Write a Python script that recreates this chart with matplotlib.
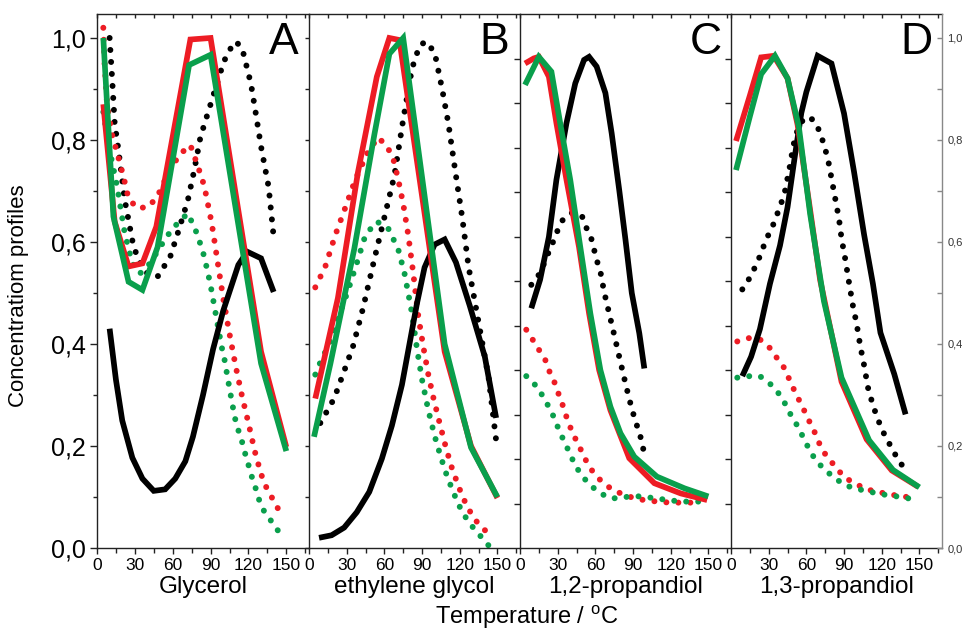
import numpy as np
import matplotlib.pyplot as plt
from matplotlib.ticker import MultipleLocator, FixedLocator, FuncFormatter, NullFormatter

plt.rcParams['font.family'] = ['Liberation Sans', 'DejaVu Sans']

RED = '#ed1c24'
GREEN = '#0a9f4c'
BLACK = '#000000'

# ---------------- Panel A: Glycerol ----------------
A_RED_T = [5, 14, 25, 36, 47, 74, 90, 130, 150]
A_RED_V = [0.87, 0.64, 0.552, 0.558, 0.63, 0.997, 1.0, 0.385, 0.198]
A_GRN_T = [5, 13, 25, 36, 48, 73, 90, 130, 150]
A_GRN_V = [1.0, 0.65, 0.522, 0.506, 0.59, 0.947, 0.967, 0.362, 0.19]
A_BLK_T = [10, 15, 20, 28, 36, 45, 54, 62, 70, 76, 84, 92, 100, 106, 112, 119, 130, 140]
A_BLK_V = [0.43, 0.33, 0.25, 0.177, 0.136, 0.112, 0.115, 0.136, 0.17, 0.218, 0.30,
           0.39, 0.465, 0.51, 0.555, 0.581, 0.568, 0.502]
A_BLKDOT_T = [10, 12, 14, 17, 22, 29, 35, 40, 48, 58, 65, 72, 77, 82, 90, 95, 100, 104,
              110, 115, 118, 122, 125, 130, 136, 140]
A_BLKDOT_V = [1.0, 0.92, 0.833, 0.78, 0.682, 0.59, 0.555, 0.538, 0.532, 0.571, 0.625, 0.682,
              0.74, 0.806, 0.87, 0.91, 0.95, 0.973, 0.993, 0.98, 0.95, 0.91, 0.865, 0.787,
              0.708, 0.61]
A_REDDOT_T = [5, 6, 8, 12, 17, 21, 25, 32, 41, 48, 54, 61, 68, 74, 80, 85, 90, 92, 95,
              100, 105, 110, 115, 120, 125, 129, 132, 136, 140, 145]
A_REDDOT_V = [1.02, 0.95, 0.87, 0.81, 0.765, 0.728, 0.685, 0.666, 0.669, 0.69, 0.722, 0.755,
              0.777, 0.79, 0.748, 0.71, 0.648, 0.62, 0.57, 0.49, 0.42, 0.355, 0.297, 0.245,
              0.19, 0.154, 0.13, 0.11, 0.093, 0.07]
A_GRNDOT_T = [5, 10, 16, 22, 28, 34, 42, 50, 58, 65, 72, 78, 81, 84, 86, 88, 90, 93, 96,
              99, 101, 104, 107, 110, 113, 116, 118, 121, 123, 126, 129, 132, 138, 144]
A_GRNDOT_V = [0.855, 0.78, 0.708, 0.617, 0.558, 0.538, 0.558, 0.59, 0.62, 0.64, 0.656, 0.624,
              0.603, 0.58, 0.56, 0.538, 0.515, 0.474, 0.432, 0.392, 0.37, 0.327, 0.285,
              0.247, 0.223, 0.2, 0.179, 0.155, 0.137, 0.115, 0.09, 0.074, 0.053, 0.032]

# ---------------- Panel B: ethylene glycol ----------------
B_RED_T = [5, 23, 39, 54, 64, 72, 108, 129, 150]
B_RED_V = [0.293, 0.49, 0.737, 0.924, 1.0, 0.996, 0.385, 0.2, 0.098]
B_GRN_T = [4, 17, 36, 52, 64, 75, 108, 129, 150]
B_GRN_V = [0.218, 0.361, 0.586, 0.81, 0.969, 1.0, 0.40, 0.197, 0.10]
B_BLK_T = [8, 18, 28, 38, 48, 58, 66, 74, 80, 86, 92, 100, 108, 117, 128, 140, 149]
B_BLK_V = [0.02, 0.025, 0.04, 0.07, 0.11, 0.175, 0.24, 0.32, 0.40, 0.48, 0.55, 0.595,
           0.605, 0.56, 0.475, 0.375, 0.255]
B_BLKDOT_T = [9, 20, 28, 35, 43, 52, 60, 68, 75, 82, 88, 93, 100, 106, 111, 117, 122, 127,
              133, 138, 143, 147, 149]
B_BLKDOT_V = [0.245, 0.293, 0.347, 0.395, 0.47, 0.566, 0.648, 0.73, 0.84, 0.94, 0.985, 0.993,
              0.972, 0.9, 0.832, 0.73, 0.648, 0.552, 0.47, 0.402, 0.334, 0.252, 0.211]
B_REDDOT_T = [5, 13, 21, 29, 37, 47, 55, 62, 67, 71, 75, 79, 83, 87, 91, 95, 99, 104, 109,
              114, 120, 126, 134, 140, 146]
B_REDDOT_V = [0.511, 0.552, 0.614, 0.668, 0.723, 0.777, 0.805, 0.788, 0.764, 0.723, 0.675,
              0.614, 0.539, 0.455, 0.395, 0.34, 0.295, 0.245, 0.197, 0.155, 0.115, 0.08,
              0.05, 0.035, 0.025]
B_GRNDOT_T = [5, 9, 16, 23, 31, 39, 45, 54, 63, 71, 76, 82, 86, 90, 95, 100, 105, 110, 116,
              122, 129, 136, 141, 145]
B_GRNDOT_V = [0.34, 0.364, 0.40, 0.45, 0.504, 0.566, 0.614, 0.64, 0.627, 0.586, 0.539, 0.46,
              0.39, 0.33, 0.27, 0.22, 0.178, 0.14, 0.103, 0.07, 0.045, 0.025, 0.01, 0.0]

# ---------------- Panel C: 1,2-propandiol ----------------
C_RED_T = [4, 11, 15, 23, 29, 37, 47, 55, 63, 72, 87, 107, 128, 149]
C_RED_V = [0.95, 0.96, 0.963, 0.924, 0.833, 0.722, 0.59, 0.46, 0.349, 0.27, 0.176, 0.127,
           0.107, 0.094]
C_GRN_T = [4, 15, 25, 32, 40, 48, 56, 64, 72, 80, 91, 109, 131, 150]
C_GRN_V = [0.908, 0.963, 0.934, 0.833, 0.722, 0.59, 0.46, 0.349, 0.277, 0.225, 0.179, 0.14,
           0.117, 0.101]
C_BLK_T = [9, 16, 23, 29, 37, 44, 51, 55, 61, 68, 73, 79, 84, 89, 95, 99]
C_BLK_V = [0.47, 0.526, 0.61, 0.722, 0.833, 0.911, 0.957, 0.963, 0.944, 0.892, 0.813, 0.702,
           0.604, 0.50, 0.421, 0.352]
C_BLKDOT_T = [9, 16, 23, 27, 30, 34, 41, 49, 53, 57, 61, 64, 67, 71, 75, 79, 83, 87, 92,
              95, 99]
C_BLKDOT_V = [0.516, 0.539, 0.581, 0.604, 0.623, 0.643, 0.657, 0.653, 0.627, 0.605, 0.565,
              0.542, 0.502, 0.46, 0.418, 0.375, 0.333, 0.292, 0.247, 0.228, 0.185]
C_REDDOT_T = [5, 11, 16, 21, 24, 28, 31, 34, 37, 40, 44, 48, 52, 57, 64, 73, 83, 92, 101,
              110, 119, 128, 136, 145]
C_REDDOT_V = [0.428, 0.405, 0.385, 0.365, 0.342, 0.322, 0.30, 0.28, 0.257, 0.237, 0.215,
              0.195, 0.174, 0.153, 0.133, 0.115, 0.104, 0.097, 0.093, 0.091, 0.089, 0.089,
              0.089, 0.091]
C_GRNDOT_T = [5, 14, 19, 24, 28, 31, 35, 39, 43, 48, 55, 64, 73, 81, 91, 100, 109, 118, 128,
              137, 145]
C_GRNDOT_V = [0.337, 0.315, 0.294, 0.272, 0.251, 0.231, 0.21, 0.189, 0.167, 0.146, 0.125,
              0.107, 0.097, 0.099, 0.102, 0.10, 0.097, 0.094, 0.091, 0.091, 0.091]

# ---------------- Panel D: 1,3-propandiol ----------------
D_RED_T = [4, 15, 24, 34, 45, 53, 62, 71, 80, 88, 108, 128, 149]
D_RED_V = [0.798, 0.887, 0.962, 0.965, 0.921, 0.83, 0.68, 0.525, 0.42, 0.326, 0.213, 0.152,
           0.12]
D_GRN_T = [4, 15, 24, 35, 45, 54, 63, 74, 88, 110, 129, 150]
D_GRN_V = [0.741, 0.846, 0.929, 0.965, 0.921, 0.826, 0.655, 0.484, 0.334, 0.211, 0.153, 0.119]
D_BLK_T = [9, 16, 23, 31, 39, 45, 51, 56, 60, 69, 80, 90, 98, 106, 113, 119, 130, 139]
D_BLK_V = [0.337, 0.375, 0.429, 0.518, 0.593, 0.668, 0.771, 0.853, 0.894, 0.965, 0.95, 0.852,
           0.737, 0.614, 0.518, 0.422, 0.341, 0.262]
D_BLKDOT_T = [9, 15, 19, 23, 28, 33, 37, 40, 43, 45, 47, 49, 51, 54, 58, 62, 66, 71, 74,
              77, 80, 83, 86, 88, 91, 94, 97, 100, 103, 106, 109, 113, 117, 121, 125, 129,
              133, 137]
D_BLKDOT_V = [0.507, 0.53, 0.55, 0.572, 0.605, 0.63, 0.656, 0.676, 0.70, 0.725, 0.75, 0.78,
              0.805, 0.826, 0.842, 0.845, 0.838, 0.815, 0.79, 0.765, 0.725, 0.685, 0.645,
              0.607, 0.566, 0.52, 0.476, 0.44, 0.395, 0.358, 0.315, 0.28, 0.252, 0.228,
              0.21, 0.19, 0.175, 0.159]
D_REDDOT_T = [5, 15, 23, 31, 37, 43, 47, 51, 55, 59, 63, 67, 71, 76, 83, 90, 99, 108, 117,
              126, 135, 145]
D_REDDOT_V = [0.405, 0.412, 0.409, 0.392, 0.371, 0.351, 0.327, 0.306, 0.286, 0.266, 0.245,
              0.225, 0.201, 0.18, 0.16, 0.139, 0.126, 0.115, 0.11, 0.105, 0.102, 0.098]
D_GRNDOT_T = [5, 15, 23, 32, 39, 44, 48, 54, 58, 63, 68, 75, 83, 92, 102, 111, 121, 130,
              139, 149]
D_GRNDOT_V = [0.334, 0.337, 0.337, 0.32, 0.30, 0.279, 0.259, 0.235, 0.214, 0.19, 0.17, 0.153,
              0.136, 0.122, 0.115, 0.11, 0.105, 0.102, 0.098, 0.095]

PANEL_LETTERS = ['A', 'B', 'C', 'D']
PANEL_NAMES = ['Glycerol', 'ethylene glycol', '1,2-propandiol', '1,3-propandiol']
X_TICKS = [0, 30, 60, 90, 120, 150]
RIGHT_TICKS = [0.0, 0.1, 0.2, 0.3, 0.4, 0.5, 0.6, 0.7, 0.8, 0.9, 1.0]

PANELS = [
    [(A_BLKDOT_T, A_BLKDOT_V, BLACK, ':'), (A_REDDOT_T, A_REDDOT_V, RED, ':'),
     (A_GRNDOT_T, A_GRNDOT_V, GREEN, ':'), (A_BLK_T, A_BLK_V, BLACK, '-'),
     (A_RED_T, A_RED_V, RED, '-'), (A_GRN_T, A_GRN_V, GREEN, '-')],
    [(B_BLKDOT_T, B_BLKDOT_V, BLACK, ':'), (B_REDDOT_T, B_REDDOT_V, RED, ':'),
     (B_GRNDOT_T, B_GRNDOT_V, GREEN, ':'), (B_BLK_T, B_BLK_V, BLACK, '-'),
     (B_RED_T, B_RED_V, RED, '-'), (B_GRN_T, B_GRN_V, GREEN, '-')],
    [(C_BLKDOT_T, C_BLKDOT_V, BLACK, ':'), (C_REDDOT_T, C_REDDOT_V, RED, ':'),
     (C_GRNDOT_T, C_GRNDOT_V, GREEN, ':'), (C_BLK_T, C_BLK_V, BLACK, '-'),
     (C_RED_T, C_RED_V, RED, '-'), (C_GRN_T, C_GRN_V, GREEN, '-')],
    [(D_BLKDOT_T, D_BLKDOT_V, BLACK, ':'), (D_REDDOT_T, D_REDDOT_V, RED, ':'),
     (D_GRNDOT_T, D_GRNDOT_V, GREEN, ':'), (D_BLK_T, D_BLK_V, BLACK, '-'),
     (D_RED_T, D_RED_V, RED, '-'), (D_GRN_T, D_GRN_V, GREEN, '-')],
]

# figure geometry in pixels (967 x 631)
W, H = 967, 631
PANEL_EDGES = [97, 309, 520, 731, 942]
Y_BOTTOM, Y_TOP = 548, 14
XMAX = 168
YMAX = 1.047
INNER_STEP = 0.08725  # tick spacing on the inner C / D axes

comma = FuncFormatter(lambda v, p: f'{v:.1f}'.replace('.', ','))
SPINE = '#222222'

fig = plt.figure(figsize=(W / 100, H / 100), dpi=100)

for i in range(4):
    x0, x1 = PANEL_EDGES[i], PANEL_EDGES[i + 1]
    ax = fig.add_axes([x0 / W, 1 - Y_BOTTOM / H, (x1 - x0) / W, (Y_BOTTOM - Y_TOP) / H])
    ax.set_xlim(0, XMAX)
    ax.set_ylim(0, YMAX)

    for t, v, col, ls in PANELS[i]:
        if ls == ':':
            ax.plot(t, v, color=col, lw=4.3, linestyle=(0, (0.01, 2.0)),
                    dash_capstyle='round', zorder=2)
        else:
            ax.plot(t, v, color=col, lw=4.1, solid_joinstyle='miter',
                    solid_capstyle='butt', zorder=3)

    for s in ax.spines.values():
        s.set_color(SPINE)
        s.set_linewidth(1.0)
    ax.spines['right'].set_visible(False)

    # bottom x axis
    ax.xaxis.set_major_locator(FixedLocator(X_TICKS))
    ax.xaxis.set_minor_locator(FixedLocator([15, 45, 75, 105, 135, 165]))
    ax.tick_params(axis='x', which='major', direction='out', length=4, width=1.0,
                   color=SPINE, pad=3)
    ax.tick_params(axis='x', which='minor', direction='out', length=3.5, width=1.0,
                   color=SPINE)
    for lab in ax.get_xticklabels():
        lab.set_fontfamily(['Liberation Sans Narrow', 'Liberation Sans'])
        lab.set_fontsize(12.5)

    # top ticks pointing inward
    top = ax.secondary_xaxis('top')
    top.xaxis.set_major_locator(FixedLocator(list(range(0, 169, 15))))
    top.tick_params(axis='x', direction='in', length=3, width=1.0, color=SPINE,
                    labeltop=False)
    top.spines['top'].set_visible(False)

    # left spine ticks
    if i == 0:
        ax.yaxis.set_major_locator(FixedLocator([0.0, 0.2, 0.4, 0.6, 0.8, 1.0]))
        ax.yaxis.set_minor_locator(FixedLocator([0.1, 0.3, 0.5, 0.7, 0.9]))
        ax.yaxis.set_major_formatter(comma)
        ax.tick_params(axis='y', which='major', direction='out', length=5, width=1.0,
                       color=SPINE, labelsize=18, pad=3)
        ax.tick_params(axis='y', which='minor', direction='out', length=3, width=1.0,
                       color=SPINE)
    elif i == 1:
        ax.yaxis.set_major_locator(FixedLocator(RIGHT_TICKS))
        ax.tick_params(axis='y', which='major', direction='out', length=3, width=1.0,
                       color=SPINE, labelleft=False)
    else:
        ax.yaxis.set_major_locator(FixedLocator(np.arange(1, 12) * INNER_STEP))
        ax.tick_params(axis='y', which='major', direction='out', length=4.5, width=1.0,
                       color=SPINE, labelleft=False)

    if i == 3:
        right = ax.twinx()
        right.set_ylim(0, YMAX)
        right.yaxis.set_major_locator(FixedLocator(RIGHT_TICKS))
        right.yaxis.set_major_formatter(
            FuncFormatter(lambda v, p: comma(v, p) if round(v * 10) % 2 == 0 else ''))
        right.tick_params(axis='y', which='major', direction='in', length=3.5, width=1.0,
                          color='#888888', labelsize=8, labelcolor='#333333', pad=4)
        for name, s in right.spines.items():
            s.set_visible(name == 'right')
        right.spines['right'].set_color('#888888')
        right.spines['right'].set_linewidth(1.0)

    ax.text(0.88, 0.946, PANEL_LETTERS[i], transform=ax.transAxes, ha='center',
            va='center', fontsize=32, zorder=5)

    fig.text((x0 + x1) / 2 / W, 1 - 593 / H, PANEL_NAMES[i], ha='center',
             va='baseline', fontsize=17.5)

fig.text(527 / W, 1 - 624 / H, 'Temperature / $^{\\mathregular{o}}$C', ha='center',
         va='baseline', fontsize=17)
fig.text(19 / W, 1 - 296 / H, 'Concentratiom profiles', rotation=90, ha='center',
         va='center', fontsize=16)

fig.savefig('out.png', dpi=100)
